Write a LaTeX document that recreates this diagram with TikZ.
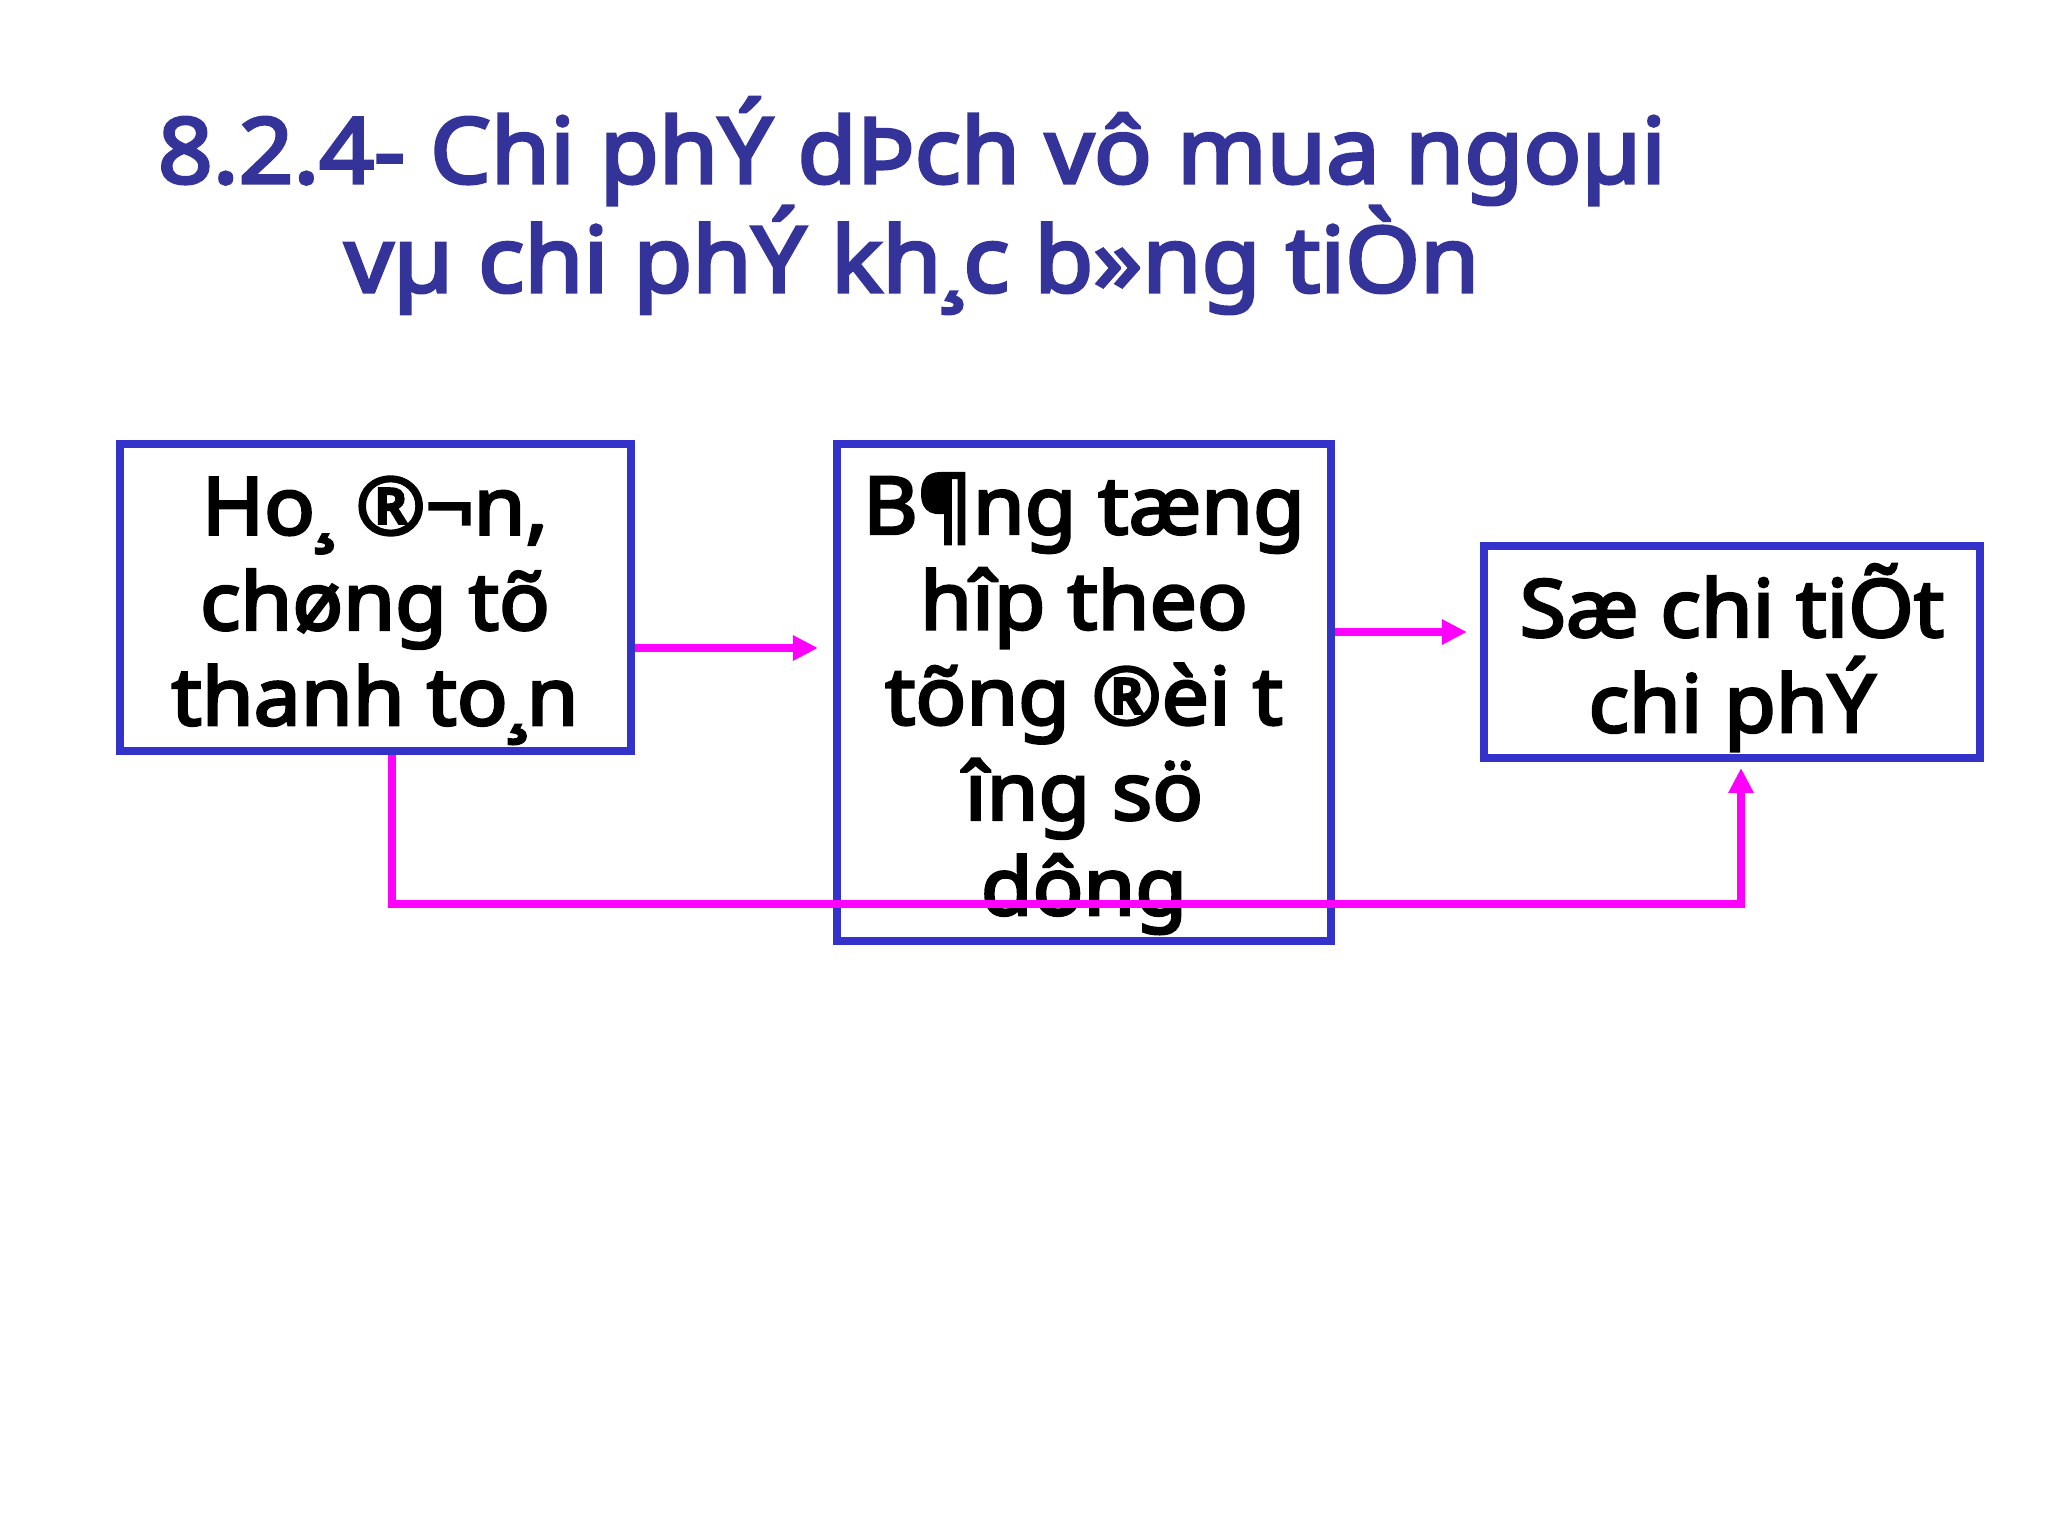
\documentclass[tikz,border=0pt]{standalone}
\usepackage{fontspec}
\setmainfont{Noto Sans}[BoldFont={Noto Sans}, BoldFeatures={FakeBold=3.5, FakeStretch=1.055}]
\usepackage{tikz}
\usetikzlibrary{arrows.meta}
\definecolor{titleblue}{RGB}{51,51,153}
\definecolor{boxblue}{RGB}{51,51,204}
\definecolor{linkpink}{RGB}{255,0,255}
\newdimen\pxu \pxu=0.3515625pt
\begin{document}
\begin{tikzpicture}[x=\pxu, y=-\pxu,
    blk/.style={draw=boxblue, line width=2.8pt, rectangle, inner sep=0pt},
    txt/.style={font=\fontsize{28}{33.5}\bfseries\selectfont, align=center, inner sep=0pt, anchor=base},
    link/.style={draw=linkpink, line width=2.8pt, -{Triangle[length=8.8pt,width=8.4pt]}}]
    \useasboundingbox (0,0) rectangle (2048,1536);
    % Title
    \node[font=\fontsize{32}{38.3}\bfseries\selectfont, text=titleblue, align=center, inner sep=0pt, anchor=base] (title) at (912,292)
        {8.2.4- Chi phÝ dÞch vô mua ngoµi\\vµ chi phÝ kh¸c b»ng tiÒn};

    % Boxes
    \node[blk, minimum width=511*\pxu, minimum height=307*\pxu] (hoadon) at (375.5,597.5) {};
    \node[blk, minimum width=494*\pxu, minimum height=497*\pxu] (bangth) at (1084,692.5) {};
    \node[blk, minimum width=496*\pxu, minimum height=212*\pxu] (sochitiet) at (1732,652) {};
    \node[txt] (hoadontxt) at (375,725) {Ho¸ ®¬n,\\chøng tõ\\thanh to¸n};
    \node[txt] (bangthtxt) at (1084,915) {B¶ng tæng\\hîp theo\\tõng ®èi t\\îng sö\\dông};
    \node[txt] (sochitiettxt) at (1732,732) {Sæ chi tiÕt\\chi phÝ};

    % Connectors
    \coordinate (bl) at (392,904);
    \coordinate (br) at (1741,904);
    \draw[link, shorten >=5.3pt] (hoadon.east |- 0,648) -- (bangth.west |- 0,648);
    \draw[link, shorten >=4.6pt] (bangth.east |- 0,632) -- (sochitiet.west |- 0,632);
    \draw[link, shorten >=2.1pt] (hoadon.south -| bl) -- (bl) -- (br) -- (sochitiet.south -| br);
\end{tikzpicture}
\end{document}
